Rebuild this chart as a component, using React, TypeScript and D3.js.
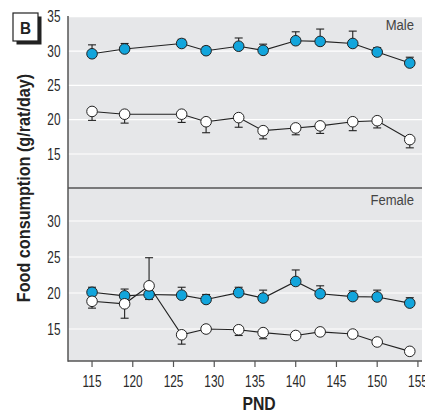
import React from "react";
import * as d3 from "d3";

// postnatal day (x) for each panel
const malePnd = [115, 119, 126, 129, 133, 136, 140, 143, 147, 150, 154];
const femalePnd = [115, 119, 122, 126, 129, 133, 136, 140, 143, 147, 150, 154];

// food consumption, g/rat/day (error: + drawn up, - drawn down)
const maleBlue = [29.6, 30.3, 31.1, 30.05, 30.7, 30.1, 31.5, 31.4, 31.1, 29.85, 28.25];
const maleBlueErr = [1.3, 0.8, 0.6, 0.55, 1.2, 0.9, 1.3, 1.8, 1.8, 0.65, 0.85];
const maleWhite = [21.2, 20.8, 20.8, 19.7, 20.3, 18.4, 18.8, 19.1, 19.7, 19.85, 17.1];
const maleWhiteErr = [-1.3, -1.3, -1.2, -1.6, -1.4, -1.2, -1.0, -1.1, -1.3, -1.05, -1.2];

const femaleBlue = [20.1, 19.6, 19.8, 19.7, 19.1, 20.05, 19.3, 21.6, 19.9, 19.5, 19.45, 18.6];
const femaleBlueErr = [0.7, 0.95, -0.7, 1.1, 0.7, 0.75, 1.1, 1.6, 1.1, 0.8, 0.95, 0.75];
const femaleWhite = [18.85, 18.5, 21.0, 14.2, 15.0, 14.9, 14.5, 14.1, 14.6, 14.3, 13.2, 11.9];
const femaleWhiteErr = [-0.95, -2.0, 3.9, -1.3, 0, -0.8, -0.85, 0, 0, 0, 0, -0.4];

const xTicks = [115, 120, 125, 130, 135, 140, 145, 150, 155];
const maleTicks = [15, 20, 25, 30, 35];
const femaleTicks = [15, 20, 25, 30];

const W = 425;
const H = 413;
const left = 68;
const right = 422;
const top = 16;
const mid = 188;
const bottom = 361;

const font = "'Liberation Sans', Arial, sans-serif";
const blue = "#12a5dc";

const x = d3.scaleLinear().domain([112.05, 155.5]).range([left, right]);
const yMale = d3.scaleLinear().domain([10.05, 35]).range([mid, top + 0.7]);
const yFemale = d3.scaleLinear().domain([10.56, 34.58]).range([bottom, mid]);

// condensed text: the original uses a narrow face, so squeeze horizontally
function CText(props: {
  x: number;
  y: number;
  size: number;
  sx: number;
  anchor?: string;
  bold?: boolean;
  fill?: string;
  rotate?: number;
  dy?: string;
  children: React.ReactNode;
}) {
  const { x: tx, y: ty, size, sx, anchor, bold, fill, rotate, dy, children } = props;
  return (
    <text
      transform={`translate(${tx},${ty})${rotate ? ` rotate(${rotate})` : ""} scale(${sx},1)`}
      dy={dy}
      textAnchor={anchor || "start"}
      fontSize={size}
      fontWeight={bold ? "bold" : "normal"}
      fill={fill || "#222"}
      fontFamily={font}
    >
      {children}
    </text>
  );
}

type Series = { xs: number[]; ys: number[]; err: number[]; fill: string };

function Panel(props: { y: d3.ScaleLinear<number, number>; series: Series[]; ticks: number[]; label: string; labelY: number }) {
  const { y, series, ticks, label, labelY } = props;
  const line = d3.line<[number, number]>().x((d) => x(d[0])).y((d) => y(d[1]));
  return (
    <g>
      {ticks.map((t) => (
        <g key={t}>
          <line x1={left} x2={right} y1={y(t)} y2={y(t)} stroke="#fff" strokeWidth={1.2} />
          <CText x={60.5} y={y(t)} dy="0.36em" anchor="end" size={16} sx={0.74} fill="#2a2a2a">
            {t}
          </CText>
        </g>
      ))}
      <CText x={414} y={labelY} anchor="end" size={14.5} sx={0.9} fill="#444">
        {label}
      </CText>
      {series.map((s, i) => (
        <path key={"l" + i} d={line(s.xs.map((v, j) => [v, s.ys[j]])) || ""} fill="none" stroke="#222" strokeWidth={1.1} />
      ))}
      {series.map((s, i) => (
        <g key={"e" + i} stroke="#222" strokeWidth={1.1}>
          {s.xs.map((v, j) =>
            s.err[j] === 0 ? null : (
              <g key={j}>
                <line x1={x(v)} x2={x(v)} y1={y(s.ys[j])} y2={y(s.ys[j] + s.err[j])} />
                <line x1={x(v) - 4} x2={x(v) + 4} y1={y(s.ys[j] + s.err[j])} y2={y(s.ys[j] + s.err[j])} />
              </g>
            )
          )}
        </g>
      ))}
      {series.map((s, i) => (
        <g key={"c" + i}>
          {s.xs.map((v, j) => (
            <circle key={j} cx={x(v)} cy={y(s.ys[j])} r={5.3} fill={s.fill} stroke="#222" strokeWidth={1} />
          ))}
        </g>
      ))}
    </g>
  );
}

export default function App() {
  return (
    <svg width={W} height={H} style={{ position: "absolute", left: 0, top: 0, background: "#fff" }}>
      <rect x={left} y={top} width={right - left} height={bottom - top} fill="#e6e7e9" />
      <Panel
        y={yMale}
        ticks={maleTicks}
        label="Male"
        labelY={30}
        series={[
          { xs: malePnd, ys: maleBlue, err: maleBlueErr, fill: blue },
          { xs: malePnd, ys: maleWhite, err: maleWhiteErr, fill: "#fff" },
        ]}
      />
      <Panel
        y={yFemale}
        ticks={femaleTicks}
        label="Female"
        labelY={205}
        series={[
          { xs: femalePnd, ys: femaleBlue, err: femaleBlueErr, fill: blue },
          { xs: femalePnd, ys: femaleWhite, err: femaleWhiteErr, fill: "#fff" },
        ]}
      />
      <line x1={left} x2={right} y1={mid} y2={mid} stroke="#555" strokeWidth={1.3} />
      <line x1={left} x2={left} y1={top} y2={bottom + 0.7} stroke="#555" strokeWidth={1.5} />
      <line x1={left} x2={right} y1={bottom} y2={bottom} stroke="#555" strokeWidth={1.5} />
      {xTicks.map((t) => (
        <g key={t}>
          <line x1={x(t)} x2={x(t)} y1={bottom} y2={bottom + 6} stroke="#555" strokeWidth={1.2} />
          <CText x={x(t)} y={386.5} anchor="middle" size={16} sx={0.74} fill="#2a2a2a">
            {t}
          </CText>
        </g>
      ))}
      <CText x={259} y={410} anchor="middle" size={17.5} sx={0.9} bold>
        PND
      </CText>
      <CText x={29.5} y={188} anchor="middle" size={18} sx={0.9} bold rotate={-90}>
        Food consumption (g/rat/day)
      </CText>
      <rect x={16.5} y={16.5} width={25} height={28} fill="#222" />
      <rect x={13} y={13} width={25} height={28} fill="#fff" stroke="#222" strokeWidth={1.2} />
      <CText x={25.5} y={33.5} anchor="middle" size={17} sx={0.9} bold>
        B
      </CText>
    </svg>
  );
}
